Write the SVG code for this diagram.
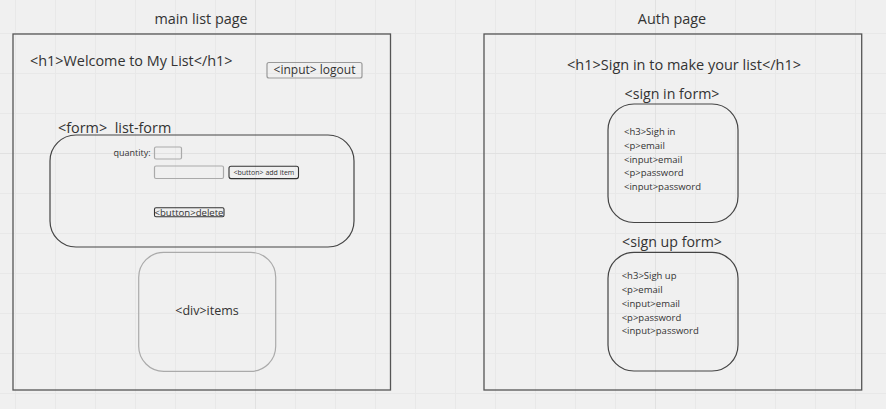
<svg xmlns="http://www.w3.org/2000/svg" width="886" height="409" viewBox="0 0 886 409">
<defs>
<pattern id="grid" x="15" y="33" width="40" height="40" patternUnits="userSpaceOnUse">
<path d="M0.5 0V40M0 0.5H40" stroke="#e8e8e8" stroke-width="1" fill="none"/>
</pattern>
</defs>
<style>
text{font-family:"Open Sans","Noto Sans","DejaVu Sans",sans-serif;fill:#333}
.t15{font-size:14.4px}
.t14{font-size:14.5px}
.sm{font-size:9.5px}
.frame{fill:none;stroke:#555;stroke-width:1.3}
.box{fill:none;stroke:#444;stroke-width:1.2}
.lite{fill:none;stroke:#aaa;stroke-width:1.2}
.btn{fill:none;stroke:#333;stroke-width:1.1}
.mid{text-anchor:middle}
</style>
<rect width="886" height="409" fill="#f0f0f0"/>
<rect width="886" height="409" fill="url(#grid)"/>
<path d="M255.5 0V409M655.5 0V409M0 153.5H886" stroke="#e1e1e1" stroke-width="1"/>

<g id="main-page">
<text class="t15 mid" x="201" y="24">main list page</text>
<rect class="frame" x="13" y="34" width="377.5" height="356"/>
</g>
<g id="h1-welcome">
<text class="t15" x="30" y="66">&lt;h1&gt;Welcome to My List&lt;/h1&gt;</text>
</g>
<g id="logout">
<rect x="267" y="62.5" width="95" height="15.5" rx="2" fill="none" stroke="#999" stroke-width="1.2"/>
<text class="mid" x="314.5" y="73.5" font-size="12">&lt;input&gt; logout</text>
</g>
<g id="list-form">
<text class="t15" x="58" y="133" xml:space="preserve">&lt;form&gt;  list-form</text>
<rect class="box" x="50" y="135" width="304" height="112" rx="26"/>
<text x="150.5" y="156" font-size="9" text-anchor="end">quantity:</text>
<rect class="lite" x="154.5" y="147" width="27" height="12" rx="1.5"/>
<rect class="lite" x="154.5" y="166" width="69" height="12.5" rx="1.5"/>
<rect class="btn" x="229" y="166.3" width="69.5" height="12.3" rx="2"/>
<text x="233.5" y="175" font-size="7">&lt;button&gt; add item</text>
<rect class="btn" x="154.5" y="207.8" width="69.5" height="9" rx="1.5"/>
<text x="154.5" y="215.8" font-size="9.5" textLength="69" lengthAdjust="spacingAndGlyphs">&lt;button&gt;delete</text>
</g>
<g id="items">
<rect class="lite" x="138.7" y="252.3" width="137" height="119" rx="25"/>
<text class="mid" x="207" y="314.5" font-size="12.5">&lt;div&gt;items</text>
</g>

<g id="auth-page">
<text class="t15 mid" x="672" y="24">Auth page</text>
<rect class="frame" x="484" y="34" width="377.7" height="356"/>
</g>
<g id="h1-sign-in">
<text class="t14 mid" x="684" y="70">&lt;h1&gt;Sign in to make your list&lt;/h1&gt;</text>
</g>
<g id="sign-in-form">
<text class="mid" x="672" y="99" font-size="14.2">&lt;sign in form&gt;</text>
<rect class="box" x="608" y="104" width="130" height="118.5" rx="26"/>
<text class="sm" x="624">
<tspan x="624" y="135">&lt;h3&gt;Sigh in</tspan>
<tspan x="624" y="149">&lt;p&gt;email</tspan>
<tspan x="624" y="162.5">&lt;input&gt;email</tspan>
<tspan x="624" y="176">&lt;p&gt;password</tspan>
<tspan x="624" y="190">&lt;input&gt;password</tspan>
</text>
</g>
<g id="sign-up-form">
<text class="mid" x="672" y="247" font-size="14.2">&lt;sign up form&gt;</text>
<rect class="box" x="608" y="252.3" width="130" height="118.7" rx="26"/>
<text class="sm" x="621.7">
<tspan x="621.7" y="279.3">&lt;h3&gt;Sigh up</tspan>
<tspan x="621.7" y="293.3">&lt;p&gt;email</tspan>
<tspan x="621.7" y="306.8">&lt;input&gt;email</tspan>
<tspan x="621.7" y="320.6">&lt;p&gt;password</tspan>
<tspan x="621.7" y="334.3">&lt;input&gt;password</tspan>
</text>
</g>
<g id="connectors"></g>
</svg>
